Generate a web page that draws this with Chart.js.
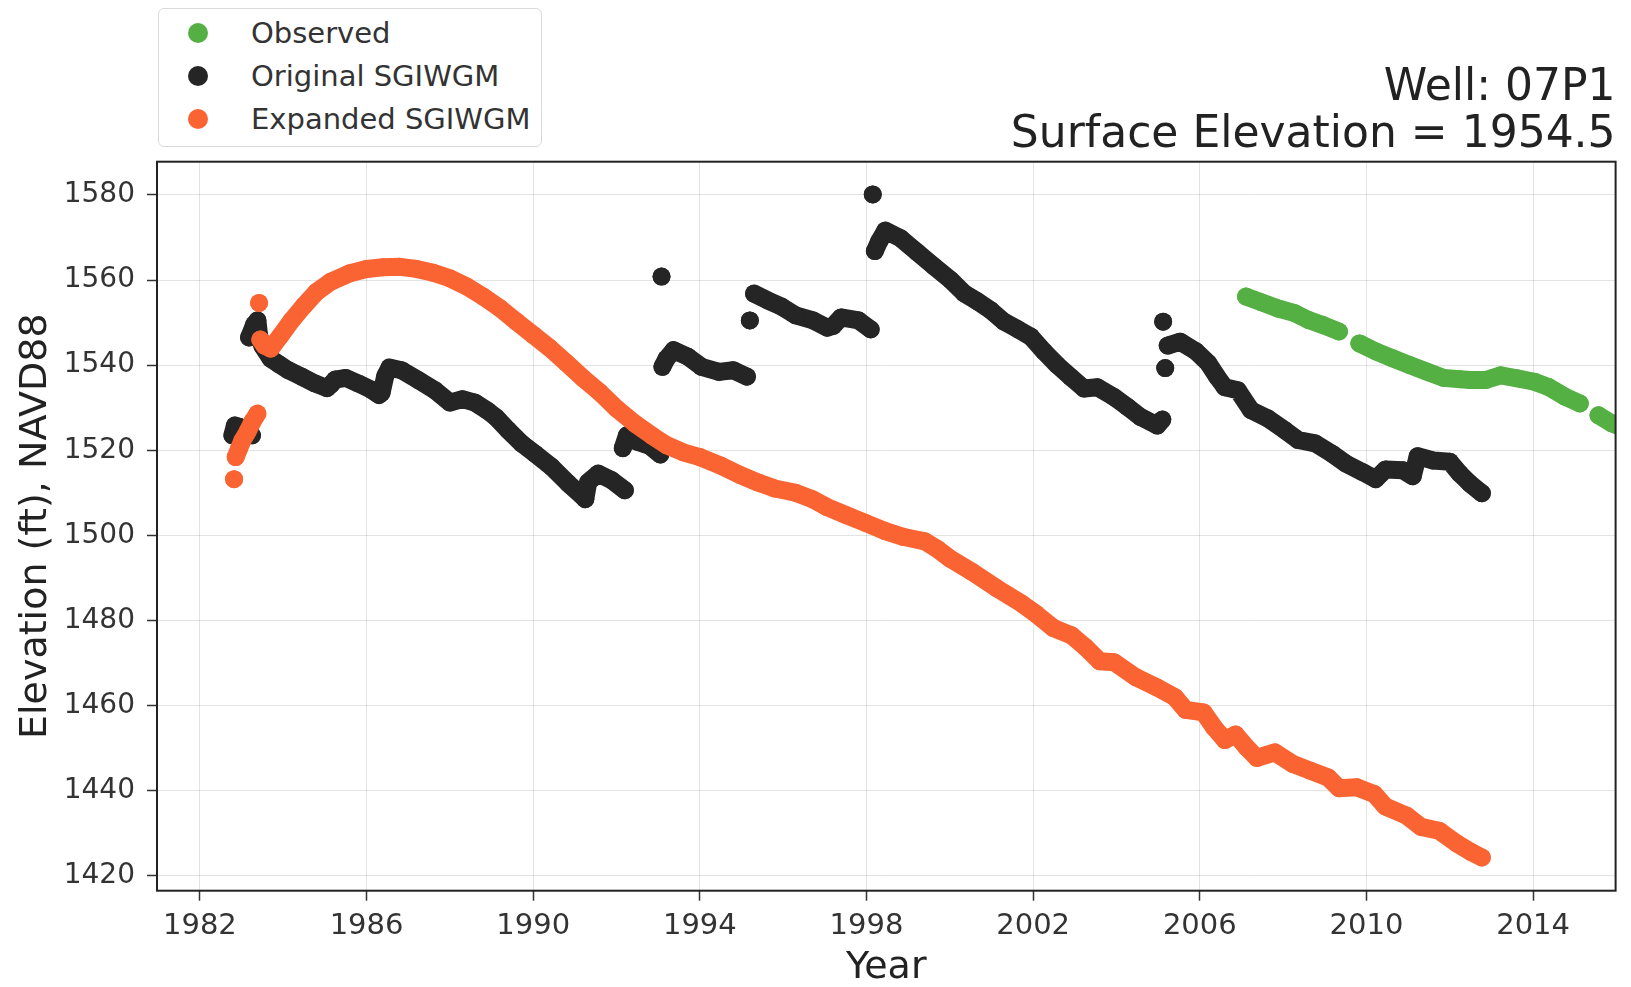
<!DOCTYPE html>
<html>
<head>
<meta charset="utf-8">
<title>Well 07P1</title>
<script src="https://cdn.jsdelivr.net/npm/chart.js@4.4.1/dist/chart.umd.min.js"></script>
<style>
  html, body { margin: 0; padding: 0; background: #fff; }
  #wrap { position: relative; width: 1631px; height: 987px; }
  #legend {
    position: absolute; left: 158px; top: 8px; width: 384px; height: 139px;
    box-sizing: border-box; border: 1px solid #d9d9d9; border-radius: 6px;
    background: #fff; font: 29px "DejaVu Sans", sans-serif; color: #333;
    padding-top: 2px;
  }
  #legend .row { display: flex; align-items: center; height: 43px; }
  #legend .dot { width: 20px; height: 20px; border-radius: 50%; margin-left: 29px; margin-right: 43px; }
</style>
</head>
<body>
<div id="wrap">
  <canvas id="well-chart"></canvas>
  <div id="legend"></div>
</div>
<script>
// Well 07P1 hydrograph

// axis ticks
const xTicks = [1982, 1986, 1990, 1994, 1998, 2002, 2006, 2010, 2014];
const yTicks = [1420, 1440, 1460, 1480, 1500, 1520, 1540, 1560, 1580];

// null marks a break between runs of points
const observedYear = [2007.11, 2007.47, 2007.88, 2008.28, 2008.61, 2008.93, 2009.34, null,
  2009.83, 2010.23, 2010.63, 2011.04, 2011.44, 2011.85, 2012.25, 2012.49, 2012.86, 2013.22,
  2013.62, 2014.03, 2014.36, 2014.76, 2015.12, null, 2015.57, 2015.89, 2016.1];
const observedElev = [1556.1, 1554.8, 1553.3, 1552.2, 1550.6, 1549.5, 1547.9, null,
  1545.1, 1543.2, 1541.6, 1540.0, 1538.5, 1537.0, 1536.7, 1536.5, 1536.5, 1537.6,
  1536.9, 1536.1, 1534.9, 1532.6, 1531.0, null, 1528.2, 1526.3, 1525.5];

const originalYear = [1982.78, 1982.84, 1982.95, 1983.1, 1983.25, null,
  1983.18, 1983.3, 1983.38, 1983.42, 1983.5, 1983.7, 1983.9, 1984.12, 1984.44, 1984.76,
  1985.05, 1985.15, 1985.25, 1985.5, 1985.8, 1986.1, 1986.3, 1986.36, 1986.45, 1986.55,
  1986.84, 1987.24, 1987.64, 1988.0, 1988.3, 1988.6, 1988.9, 1989.1, 1989.4, 1989.72,
  1990.04, 1990.44, 1990.84, 1991.15, 1991.25, 1991.32, 1991.56, 1991.88, 1992.2, null,
  1992.15, 1992.25, 1992.5, 1992.8, 1993.05, null,
  1993.08, null,
  1993.1, 1993.2, 1993.37, 1993.71, 1994.04, 1994.46, 1994.8, 1995.13, null,
  1995.2, null,
  1995.3, 1995.63, 1995.97, 1996.3, 1996.72, 1997.06, 1997.2, 1997.39, 1997.81, 1998.1, null,
  1998.15, null,
  1998.2, 1998.3, 1998.45, 1998.82, 1999.22, 1999.62, 2000.02, 2000.34, 2000.66, 2000.98,
  2001.3, 2001.62, 2001.94, 2002.26, 2002.58, 2002.9, 2003.22, 2003.54, 2003.94, 2004.26,
  2004.58, 2004.98, 2005.1, null,
  2005.12, null,
  2005.17, null,
  2005.23, 2005.53, 2005.9, 2006.2, 2006.42, 2006.6, 2006.91, 2007.23, 2007.63, 2008.04,
  2008.36, 2008.77, 2009.17, 2009.5, 2009.9, 2010.22, 2010.46, 2010.87, 2011.11, 2011.23,
  2011.6, 2012.0, 2012.24, 2012.48, 2012.77];
const originalElev = [1523.5, 1525.8, 1525.5, 1524.5, 1523.5, null,
  1546.5, 1549.5, 1550.5, 1547.0, 1544.5, 1541.5, 1540.2, 1538.8, 1537.3, 1535.7,
  1534.6, 1535.5, 1536.6, 1537.0, 1535.7, 1534.3, 1533.0, 1533.5, 1537.5, 1539.4,
  1538.8, 1536.5, 1534.1, 1531.2, 1532.0, 1531.2, 1529.3, 1527.8, 1524.7, 1521.6,
  1519.2, 1516.1, 1512.2, 1509.5, 1508.5, 1512.5, 1514.5, 1513.0, 1510.6, null,
  1520.5, 1523.5, 1522.0, 1521.0, 1519.0, null,
  1560.8, null,
  1539.6, 1541.5, 1543.5, 1542.0, 1539.6, 1538.4, 1538.8, 1537.3, null,
  1550.5, null,
  1556.8, 1555.2, 1553.7, 1551.7, 1550.5, 1548.8, 1549.2, 1551.2, 1550.5, 1548.4, null,
  1580.1, null,
  1566.8, 1569.0, 1571.6, 1569.8, 1566.5, 1563.2, 1560.0, 1556.9, 1555.0, 1552.9,
  1550.2, 1548.5, 1546.7, 1543.2, 1540.0, 1537.2, 1534.5, 1534.8, 1532.5, 1530.2,
  1527.8, 1525.8, 1527.2, null,
  1550.2, null,
  1539.3, null,
  1544.6, 1545.5, 1543.3, 1540.5, 1537.2, 1534.8, 1534.1, 1529.4, 1527.5, 1524.7,
  1522.4, 1521.6, 1519.2, 1516.9, 1514.9, 1513.2, 1515.5, 1515.3, 1513.9, 1518.6,
  1517.6, 1517.3, 1514.5, 1512.2, 1509.9];

const expandedYear = [1982.82, null,
  1982.86, 1982.94, 1983.02, 1983.14, 1983.26, 1983.38, null,
  1983.42, null,
  1983.45, 1983.55, 1983.7, 1983.94, 1984.2, 1984.5, 1984.8, 1985.14, 1985.6, 1986.0,
  1986.4, 1986.8, 1987.2, 1987.6, 1988.0, 1988.4, 1988.8, 1989.2, 1989.6, 1990.0,
  1990.4, 1990.8, 1991.2, 1991.6, 1992.0, 1992.45, 1992.87, 1993.2, 1993.6, 1994.0,
  1994.5, 1994.96, 1995.4, 1995.8, 1996.3, 1996.7, 1997.06, 1997.5, 1997.98, 1998.45,
  1998.9, 1999.4, 1999.7, 2000.01, 2000.52, 2001.12, 2001.72, 2002.06, 2002.49, 2002.92,
  2003.26, 2003.6, 2003.94, 2004.46, 2004.97, 2005.4, 2005.66, 2006.09, 2006.34, 2006.6,
  2006.86, 2007.12, 2007.37, 2007.8, 2008.23, 2008.65, 2009.08, 2009.34, 2009.77, 2010.19,
  2010.45, 2010.97, 2011.31, 2011.74, 2012.17, 2012.51, 2012.77];
const expandedElev = [1513.2, null,
  1518.4, 1520.4, 1522.3, 1524.3, 1526.7, 1528.6, null,
  1554.6, null,
  1546.0, 1544.6, 1543.9, 1547.0, 1550.5, 1554.0, 1557.2, 1559.6, 1561.6, 1562.6,
  1563.0, 1563.1, 1562.6, 1561.7, 1560.4, 1558.5, 1556.1, 1553.4, 1550.2, 1547.1,
  1544.0, 1540.5, 1536.9, 1533.6, 1529.8, 1526.2, 1523.3, 1521.2, 1519.5, 1518.4,
  1516.4, 1514.2, 1512.4, 1511.0, 1510.0, 1508.5, 1506.6, 1504.8, 1502.9, 1501.0,
  1499.6, 1498.6, 1496.8, 1494.5, 1491.5, 1487.6, 1484.0, 1481.6, 1478.2, 1476.5,
  1473.7, 1470.4, 1470.2, 1466.7, 1464.3, 1462.0, 1459.0, 1458.4, 1454.9, 1451.9,
  1453.2, 1450.2, 1447.7, 1449.0, 1446.3, 1444.7, 1443.1, 1440.6, 1440.8, 1439.2,
  1436.3, 1434.1, 1431.5, 1430.6, 1427.6, 1425.6, 1424.3];

function toPoints(years, elevs) {
    return years.map((x, i) => x === null ? { x: NaN, y: null } : { x: x, y: elevs[i] });
}

function series(label, years, elevs, color, order) {
    return {
        label: label,
        data: toPoints(years, elevs),
        order: order,
        showLine: true,
        spanGaps: false,
        clip: 0,
        borderColor: color,
        backgroundColor: color,
        borderWidth: 18,
        borderCapStyle: 'round',
        borderJoinStyle: 'round',
        pointRadius: 9,
        pointBorderWidth: 0,
        pointHoverRadius: 9
    };
}

const FONT = '"DejaVu Sans", sans-serif';

// black frame around the plot area
const framePlugin = {
    id: 'frame',
    afterDatasetsDraw(chart) {
        const { ctx, chartArea: a } = chart;
        ctx.save();
        ctx.strokeStyle = '#222';
        ctx.lineWidth = 2;
        ctx.strokeRect(a.left, a.top, a.right - a.left, a.bottom - a.top);
        ctx.restore();
    }
};

// boxed legend in the top left corner, built from the datasets
const htmlLegendPlugin = {
    id: 'htmlLegend',
    afterUpdate(chart) {
        const box = document.getElementById('legend');
        box.innerHTML = '';
        chart.data.datasets.forEach(ds => {
            const row = document.createElement('div');
            row.className = 'row';
            const dot = document.createElement('span');
            dot.className = 'dot';
            dot.style.background = ds.backgroundColor;
            const text = document.createElement('span');
            text.textContent = ds.label;
            row.appendChild(dot);
            row.appendChild(text);
            box.appendChild(row);
        });
    }
};

function createChart() {
    const ctx = document.getElementById('well-chart').getContext('2d');
    new Chart(ctx, {
        type: 'scatter',
        data: {
            datasets: [
                series('Observed', observedYear, observedElev, '#55b044', 3),
                series('Original SGIWGM', originalYear, originalElev, '#252525', 2),
                series('Expanded SGIWGM', expandedYear, expandedElev, '#fa6432', 1)
            ]
        },
        options: {
            responsive: true,
            maintainAspectRatio: false,
            animation: false,
            layout: { padding: { left: 0, right: 15.4, top: 0, bottom: 0 } },
            plugins: {
                legend: { display: false },
                tooltip: { enabled: false },
                title: {
                    display: true,
                    text: ['Well: 07P1', 'Surface Elevation = 1954.5'],
                    align: 'end',
                    color: '#222',
                    font: { family: FONT, size: 44, weight: 'normal', lineHeight: '47px' },
                    padding: { top: 65, bottom: 2.7 }
                }
            },
            scales: {
                x: {
                    type: 'linear',
                    min: 1980.97,
                    max: 2015.98,
                    afterBuildTicks: scale => { scale.ticks = xTicks.map(v => ({ value: v })); },
                    afterFit: scale => { scale.height = 96.3; },
                    border: { display: false },
                    grid: { color: 'rgba(0,0,0,0.11)', lineWidth: 1, tickColor: '#333', tickLength: 10, tickWidth: 1.5 },
                    ticks: {
                        autoSkip: false, maxRotation: 0, padding: 8, color: '#333',
                        font: { family: FONT, size: 29 },
                        callback: v => String(v)
                    },
                    title: {
                        display: true, text: 'Year', color: '#222',
                        font: { family: FONT, size: 38, lineHeight: 1 },
                        padding: { top: 0, bottom: 0 }
                    }
                },
                y: {
                    type: 'linear',
                    min: 1416.5,
                    max: 1587.8,
                    afterBuildTicks: scale => { scale.ticks = yTicks.map(v => ({ value: v })); },
                    afterFit: scale => { scale.width = 157; },
                    border: { display: false },
                    grid: { color: 'rgba(0,0,0,0.11)', lineWidth: 1, tickColor: '#333', tickLength: 10, tickWidth: 1.5 },
                    ticks: {
                        padding: 12, color: '#333',
                        font: { family: FONT, size: 28 },
                        callback: v => String(v)
                    },
                    title: {
                        display: true, text: 'Elevation (ft), NAVD88', color: '#222',
                        font: { family: FONT, size: 38, lineHeight: 1 },
                        padding: { top: 17, bottom: 0 }
                    }
                }
            }
        },
        plugins: [framePlugin, htmlLegendPlugin]
    });
}

window.onload = createChart;
</script>
</body>
</html>
